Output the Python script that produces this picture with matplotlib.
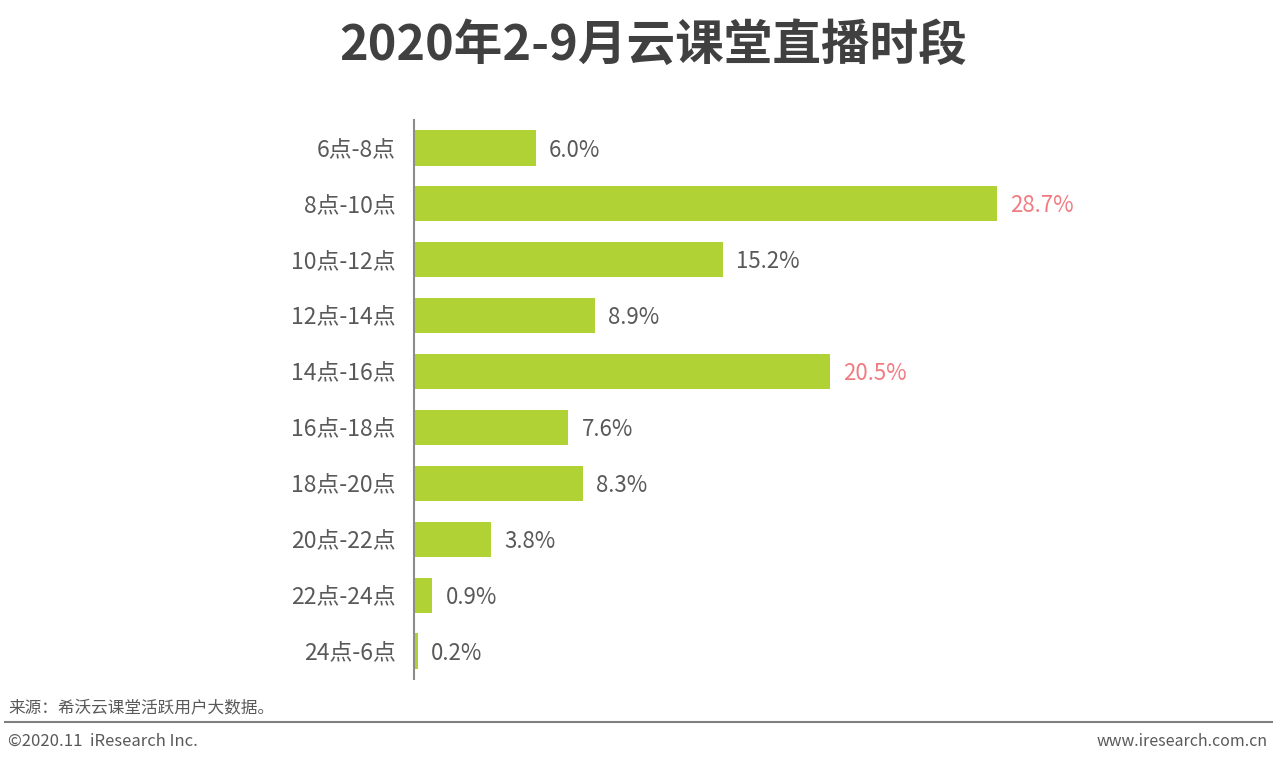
import matplotlib
matplotlib.use("Agg")
import matplotlib.pyplot as plt

plt.rcParams['font.family'] = ['Noto Sans CJK SC', 'DejaVu Sans']

categories = ["6点-8点", "8点-10点", "10点-12点", "12点-14点", "14点-16点",
              "16点-18点", "18点-20点", "20点-22点", "22点-24点", "24点-6点"]
values = [6.0, 28.7, 15.2, 8.9, 20.5, 7.6, 8.3, 3.8, 0.9, 0.2]
highlight = [False, True, False, False, True, False, False, False, False, False]

title = "2020年2-9月云课堂直播时段"
source = "来源：希沃云课堂活跃用户大数据。"
copyright_text = "©2020.11  iResearch Inc."
site = "www.iresearch.com.cn"

W, H = 1280, 764
fig = plt.figure(figsize=(W / 100, H / 100), dpi=100)
fig.patch.set_facecolor("white")

ax = fig.add_axes([414 / W, 1 - 679 / H, 866 / W, 559 / H])
pos = list(range(len(categories)))
ax.barh(pos, values, height=0.63, color="#b0d235", zorder=2)
ax.set_ylim(len(categories) - 0.5, -0.5)
ax.set_xlim(0, 866 / 20.31)
ax.set_yticks(pos)
ax.set_yticklabels(categories, fontsize=16.5, color="#595959")
for t in ax.get_yticklabels():
    t.set_y(t.get_position()[1])
ax.tick_params(axis="y", length=0, pad=13)
ax.set_xticks([])
for s in ["top", "right", "bottom"]:
    ax.spines[s].set_visible(False)
ax.spines["left"].set_color("#8c8c8c")
ax.spines["left"].set_linewidth(1.5)

for i, (v, h) in enumerate(zip(values, highlight)):
    ax.annotate(f"{v:.1f}%", xy=(v, i), xytext=(9.5, -1.5), textcoords="offset points",
                va="center", ha="left", fontsize=16,
                color="#f07c82" if h else "#595959")

fig.text(653 / W, 1 - 45 / H, title, ha="center", va="center",
         fontsize=35, fontweight="bold", color="#404040")

fig.text(8 / W, 1 - 708 / H, source, ha="left", va="center", fontsize=12, color="#595959")
fig.add_artist(plt.Line2D([5 / W, 1272 / W], [1 - 722 / H, 1 - 722 / H],
                          color="#7f7f7f", linewidth=1.5))
fig.text(8 / W, 1 - 741 / H, copyright_text, ha="left", va="center", fontsize=12, color="#595959")
fig.text(1268 / W, 1 - 741 / H, site, ha="right", va="center", fontsize=11.5, color="#595959")

fig.savefig("out.png", dpi=100)
